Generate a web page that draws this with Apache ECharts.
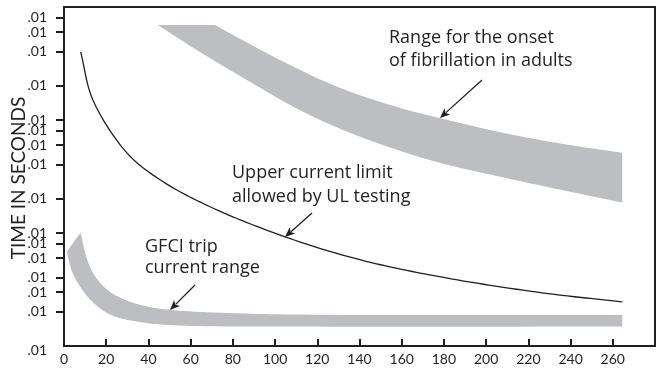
<!DOCTYPE html>
<html>
<head>
<meta charset="utf-8">
<script src="https://cdn.jsdelivr.net/npm/echarts@6/dist/echarts.min.js"></script>
<style>
html,body{margin:0;padding:0;background:#fff;}
#chart{width:662px;height:372px;}
</style>
</head>
<body>
<div id="chart"></div>
<script>
// ---- data (current in mA on x, time in seconds on y) ----
const xTicks = [0, 20, 40, 60, 80, 100, 120, 140, 160, 180, 200, 220, 240, 260];
const yTickValues = [0.005, 0.01, 0.015, 0.02, 0.03, 0.04, 0.05, 0.1, 0.2, 0.3, 0.4, 0.5, 1, 2, 3, 4];
const yTickLabels = ['.01', '.01', '.01', '.01', '.01', '.01', '.01', '.01', '.01', '.01', '.01', '.01', '.01', '.01', '.01', '.01'];
const yMin = 0.005, yMax = 5;
const xMin = 0, xMax = 280;
const yTitle = 'TIME IN SECONDS';

// Range for the onset of fibrillation in adults (band)
const fibLowerX = [44.5, 64.4, 88.1, 111.8, 135.5, 159.2, 178.1, 222.2, 264.5];
const fibLowerY = [3.46, 2.0, 1.09, 0.61, 0.385, 0.267, 0.209, 0.136, 0.093];
const fibUpperX = [71.5, 102.3, 130.8, 159.2, 178.1, 206.6, 235.0, 264.5];
const fibUpperY = [3.46, 1.70, 0.962, 0.64, 0.52, 0.39, 0.31, 0.256];

// Upper current limit allowed by UL testing (line)
const ulX = [7.9, 13.7, 29.8, 45.5, 69.2, 104.7, 140.2, 180.5, 229.3, 264.5];
const ulY = [2.0, 0.753, 0.256, 0.148, 0.0853, 0.0463, 0.0290, 0.0201, 0.01455, 0.0123];

// GFCI trip current range (band)
const gfciUpperX = [7.9, 10.4, 13.7, 19.4, 26.5, 37.4, 51.2, 78.6, 111.8, 264.5];
const gfciUpperY = [0.0504, 0.0315, 0.0223, 0.0164, 0.0134, 0.0114, 0.0104, 0.00978, 0.00948, 0.0094];
const gfciLowerX = [1.3, 3.8, 7.6, 13.3, 21.8, 37.4, 55.0, 111.8, 264.5];
const gfciLowerY = [0.0342, 0.0228, 0.0168, 0.01236, 0.00948, 0.00807, 0.00759, 0.00743, 0.00743];

// ---- helpers ----
const L = v => Math.log10(v);
const INK = '#231f20';
const BAND = '#bcbec1';
const FONT = 'Lato, "Open Sans", sans-serif';
const NOTE_FONT = '"Open Sans", Lato, sans-serif';

// centripetal Catmull-Rom through pixel points (drawing only)
function spline(pts) {
  const n = pts.length;
  if (n < 3) return pts.slice();
  const P = [[2 * pts[0][0] - pts[1][0], 2 * pts[0][1] - pts[1][1]]].concat(pts, [[2 * pts[n - 1][0] - pts[n - 2][0], 2 * pts[n - 1][1] - pts[n - 2][1]]]);
  const dist = (a, b) => Math.pow(Math.hypot(b[0] - a[0], b[1] - a[1]), 0.5) || 1e-6;
  const lerp = (a, b, ta, tb, t) => [((tb - t) * a[0] + (t - ta) * b[0]) / (tb - ta), ((tb - t) * a[1] + (t - ta) * b[1]) / (tb - ta)];
  const out = [];
  for (let i = 1; i < P.length - 2; i++) {
    const p0 = P[i - 1], p1 = P[i], p2 = P[i + 1], p3 = P[i + 2];
    const t0 = 0, t1 = t0 + dist(p0, p1), t2 = t1 + dist(p1, p2), t3 = t2 + dist(p2, p3);
    const steps = 16;
    for (let s = 0; s < steps; s++) {
      const t = t1 + (t2 - t1) * s / steps;
      const A1 = lerp(p0, p1, t0, t1, t), A2 = lerp(p1, p2, t1, t2, t), A3 = lerp(p2, p3, t2, t3, t);
      const B1 = lerp(A1, A2, t0, t2, t), B2 = lerp(A2, A3, t1, t3, t);
      out.push(lerp(B1, B2, t1, t2, t));
    }
  }
  out.push(pts[n - 1]);
  return out;
}

function bandSeries(name, ax, ay, bx, by) {
  const data = ax.map((x, i) => [x, L(ay[i])]).concat(bx.map((x, i) => [x, L(by[i])]));
  return {
    name: name, type: 'custom', silent: true, z: 1, data: data,
    renderItem: function (params, api) {
      if (params.dataIndex !== 0) return null;
      const a = ax.map((x, i) => api.coord([x, L(ay[i])]));
      const b = bx.map((x, i) => api.coord([x, L(by[i])]));
      const pts = spline(a).concat(spline(b).reverse());
      return { type: 'polygon', shape: { points: pts }, style: { fill: BAND, stroke: null } };
    }
  };
}

function curveSeries(name, xs, ys) {
  return {
    name: name, type: 'custom', silent: true, z: 3,
    data: xs.map((x, i) => [x, L(ys[i])]),
    renderItem: function (params, api) {
      if (params.dataIndex !== 0) return null;
      const p = xs.map((x, i) => api.coord([x, L(ys[i])]));
      return { type: 'polyline', shape: { points: spline(p) }, style: { stroke: INK, lineWidth: 1.3, fill: null } };
    }
  };
}

function arrow(x1, y1, x2, y2) {
  const dx = x2 - x1, dy = y2 - y1, len = Math.sqrt(dx * dx + dy * dy);
  const ux = dx / len, uy = dy / len, nx = -uy, ny = ux;
  const hl = 10, hw = 4.2;
  const bx = x2 - ux * hl, by = y2 - uy * hl;
  return [
    { type: 'line', shape: { x1: x1, y1: y1, x2: bx + ux * 2, y2: by + uy * 2 }, style: { stroke: INK, lineWidth: 1.3 }, z: 10 },
    { type: 'polygon', shape: { points: [[x2, y2], [bx + nx * hw, by + ny * hw], [bx + ux * 2.5, by + uy * 2.5], [bx - nx * hw, by - ny * hw]] }, style: { fill: INK }, z: 10 }
  ];
}

function label(text, x, y) {
  return { type: 'text', x: x, y: y, z: 10, style: { text: text, fill: INK, font: '18px ' + NOTE_FONT, textAlign: 'left', textVerticalAlign: 'bottom', textBaseline: 'alphabetic' } };
}

const chart = echarts.init(document.getElementById('chart'), null, { renderer: 'canvas' });
chart.setOption({
  animation: false,
  backgroundColor: '#fff',
  grid: { left: 64, right: 7, top: 7, bottom: 26, outerBoundsMode: 'none', containLabel: false, show: true, borderColor: INK, borderWidth: 2, backgroundColor: 'transparent' },
  xAxis: {
    type: 'value', min: xMin, max: xMax, interval: 20,
    axisLine: { show: true, onZero: false, lineStyle: { color: INK, width: 2 } },
    axisTick: { show: true, inside: true, length: 7, lineStyle: { color: INK, width: 2 }, customValues: xTicks },
    axisLabel: { customValues: xTicks, color: INK, fontFamily: FONT, fontSize: 14, margin: 6 },
    splitLine: { show: false }
  },
  yAxis: {
    type: 'value', min: L(yMin), max: L(yMax),
    axisLine: { show: true, onZero: false, lineStyle: { color: INK, width: 2 } },
    axisTick: { show: true, inside: false, length: 8, lineStyle: { color: INK, width: 2 }, customValues: yTickValues.slice(1).map(L) },
    axisLabel: {
      customValues: yTickValues.map(L), color: INK, fontFamily: FONT, fontSize: 14, margin: 17,
      rich: { low: { fontFamily: FONT, fontSize: 14, color: INK, padding: [8, 0, 0, 0] } },
      formatter: function (v) {
        let best = 0, d = Infinity;
        yTickValues.forEach((t, i) => { const e = Math.abs(L(t) - v); if (e < d) { d = e; best = i; } });
        return best === 0 ? '{low|' + yTickLabels[best] + '}' : yTickLabels[best];
      }
    },
    splitLine: { show: false }
  },
  series: [
    bandSeries('Range for the onset of fibrillation in adults', fibLowerX, fibLowerY, fibUpperX, fibUpperY),
    bandSeries('GFCI trip current range', gfciUpperX, gfciUpperY, gfciLowerX, gfciLowerY),
    curveSeries('Upper current limit allowed by UL testing', ulX, ulY)
  ],
  graphic: [
    { type: 'text', x: 19, y: 178, rotation: Math.PI / 2, z: 10,
      style: { text: yTitle, fill: INK, font: '19px ' + FONT, textAlign: 'center', textVerticalAlign: 'middle' } },
    label('Range for the onset', 389, 47),
    label('of fibrillation in adults', 389, 70),
    label('Upper current limit', 232, 182),
    label('allowed by UL testing', 232, 206),
    label('GFCI trip', 145, 256),
    label('current range', 145, 277)
  ].concat(arrow(482, 80, 440, 118), arrow(312, 213, 285, 237), arrow(195, 285, 170, 310))
});
</script>
</body>
</html>
